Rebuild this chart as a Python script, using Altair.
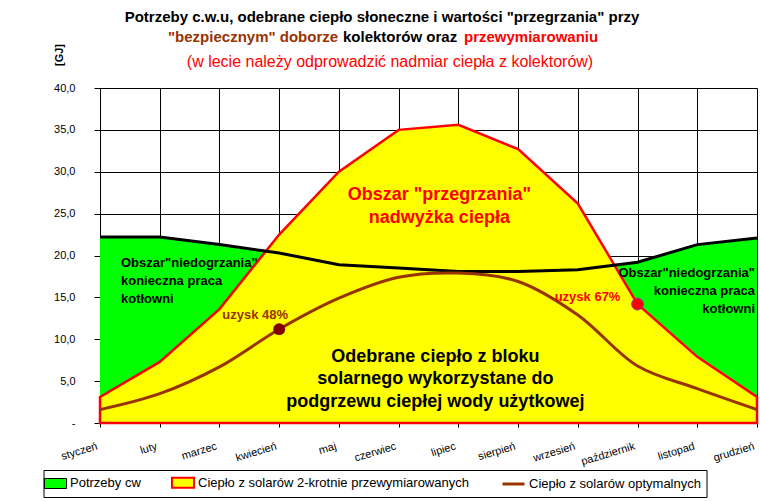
import altair as alt
import pandas as pd

# ---------------- data ----------------
months = ["styczeń", "luty", "marzec", "kwiecień", "maj", "czerwiec",
          "lipiec", "sierpień", "wrzesień", "październik", "listopad", "grudzień"]
potrzeby_cw = [22.2, 22.2, 21.3, 20.3, 18.9, 18.5, 18.1, 18.1, 18.3, 19.2, 21.3, 22.1]
solary_2x = [3.1, 7.3, 13.6, 22.5, 30.0, 35.0, 35.6, 32.7, 26.2, 14.2, 7.9, 3.1]
solary_opt = [1.6, 3.5, 6.7, 11.2, 14.9, 17.4, 17.9, 16.9, 12.9, 6.8, 4.1, 1.6]
y_ticks = [0, 5, 10, 15, 20, 25, 30, 35, 40]
legend_items = ["Potrzeby cw",
                "Ciepło z solarów 2-krotnie przewymiarowanych",
                "Ciepło z solarów optymalnych"]

df = pd.DataFrame({"month": months, "potrzeby": potrzeby_cw,
                   "solary2x": solary_2x, "solaryopt": solary_opt})
one = pd.DataFrame({"a": [0]})
leg_df = pd.DataFrame({"item": legend_items})

FONT = "Liberation Sans"
GREEN, YELLOW, RED, BROWN = "#00ff00", "#ffff00", "#ff0000", "#993300"

xenc = alt.X("month:N",
             scale=alt.Scale(type="point", padding=0, domain=months),
             axis=alt.Axis(title=None, labelAngle=-17, labelAlign="right",
                           labelBaseline="top", labelFontSize=11, labelPadding=13,
                           labelOffset=-5, labelOverlap=False, labelFont=FONT,
                           labelColor="black", tickSize=4, tickColor="black",
                           domainColor="black", grid=True, gridColor="black",
                           gridWidth=1, gridOpacity=1))

nb = "\u00a0"
yaxis = alt.Axis(title=None, values=y_ticks,
                 labelExpr="datum.value == 0 ? '-" + nb * 5 + "' : replace(format(datum.value, '.1f'), '.', ',')",
                 tickSize=6, labelPadding=19, labelFontSize=11, labelFont=FONT,
                 labelColor="black", grid=True, gridColor="black", gridWidth=1,
                 gridOpacity=1, domainColor="black", tickColor="black")
yscale = alt.Scale(domain=[0, 40], nice=False, zero=True)

green = alt.Chart(df).mark_area(color=GREEN, opacity=1).encode(
    x=xenc, y=alt.Y("potrzeby:Q", scale=yscale, axis=yaxis))
yellow = alt.Chart(df).mark_area(fill=YELLOW, stroke=RED, strokeWidth=2.5, opacity=1).encode(
    x=xenc, y=alt.Y("solary2x:Q"))
black = alt.Chart(df).mark_line(color="black", strokeWidth=3).encode(
    x=xenc, y=alt.Y("potrzeby:Q"))
brown = alt.Chart(df).mark_line(color=BROWN, strokeWidth=3, interpolate="catmull-rom").encode(
    x=xenc, y=alt.Y("solaryopt:Q"))

dot48 = alt.Chart(df).transform_filter(alt.datum.month == "kwiecień")
dot67 = alt.Chart(df).transform_filter(alt.datum.month == "październik")
dot1 = dot48.mark_circle(size=140, color="#800000", opacity=1).encode(x=xenc, y=alt.Y("solaryopt:Q"))
dot2 = dot67.mark_point(size=140, filled=True, fill=RED, stroke="#8040a0", strokeWidth=1, opacity=1).encode(
    x=xenc, y=alt.Y("solary2x:Q"))
lab1 = dot48.mark_text(text="uzysk 48%", font=FONT, fontSize=13, fontWeight="bold", color=BROWN,
                       dx=-24, dy=-14).encode(x=xenc, y=alt.Y("solaryopt:Q"))
lab2 = dot67.mark_text(text="uzysk 67%", font=FONT, fontSize=13, fontWeight="bold", color=RED,
                       dx=-50, dy=-7).encode(x=xenc, y=alt.Y("solary2x:Q"))

def note(lines, xm, yv, dx, align, size, color, lh):
    return alt.Chart(one).mark_text(text=lines, font=FONT, fontSize=size, fontWeight="bold",
                                    color=color, align=align, baseline="middle", dx=dx,
                                    lineHeight=lh).encode(x=alt.datum(xm), y=alt.datum(yv))

n_left = note(['Obszar"niedogrzania"', "konieczna praca", "kotłowni"], "styczeń", 19.1, 21, "left", 13, "black", 18)
n_right = note(['Obszar"niedogrzania"', "konieczna praca", "kotłowni"], "grudzień", 17.9, -2, "right", 13, "black", 18)
n_top = note(['Obszar "przegrzania"', "nadwyżka ciepła"], "lipiec", 27.2, -19, "center", 18, RED, 23)
n_bot = note(["Odebrane ciepło z bloku", "solarnego wykorzystane do",
              "podgrzewu ciepłej wody użytkowej"], "lipiec", 7.9, -23, "center", 18, "black", 22.5)

def tx(text, x, y, size, color, weight="bold", align="center", angle=0):
    return alt.Chart(one).mark_text(text=text, font=FONT, fontSize=size, fontWeight=weight,
                                    color=color, align=align, baseline="middle", angle=angle).encode(
        x=alt.value(x), y=alt.value(y))

t1 = tx('Potrzeby c.w.u, odebrane ciepło słoneczne i wartości "przegrzania" przy', 282, -71, 15, "black")
t2a = tx('"bezpiecznym" doborze', 68, -51, 15, BROWN, align="left")
t2b = tx('kolektorów oraz', 243, -51, 15, "black", align="left")
t2c = tx('przewymiarowaniu', 364, -51, 15, RED, align="left")
t3 = tx('(w lecie należy odprowadzić nadmiar ciepła z kolektorów)', 290, -26, 16, RED, weight="normal")
gj = tx('[GJ]', -40, -33, 11, "black", angle=270)

rect_path = "M-1.7,-0.77H1.7V0.77H-1.7Z"
line_path = "M-1.7,0H1.7"
leg = alt.Legend(title=None, orient="none", legendX=-56.5, legendY=382, direction="horizontal",
                 symbolSize=169, labelFontSize=13, labelFont=FONT, labelColor="black",
                 labelLimit=400, columnPadding=26, padding=5, strokeColor="black",
                 fillColor="white", labelOffset=7.5)
legend_layer = alt.Chart(leg_df).transform_filter("false").mark_point(filled=True, opacity=1).encode(
    fill=alt.Fill("item:N", scale=alt.Scale(domain=legend_items, range=[GREEN, YELLOW, BROWN]), legend=leg),
    stroke=alt.Stroke("item:N", scale=alt.Scale(domain=legend_items, range=["black", RED, BROWN]), legend=leg),
    strokeWidth=alt.StrokeWidth("item:N", scale=alt.Scale(domain=legend_items, range=[1, 3, 3]), legend=leg),
    shape=alt.Shape("item:N", scale=alt.Scale(domain=legend_items, range=[rect_path, rect_path, line_path]), legend=leg),
)

chart = alt.layer(green, yellow, black, brown, dot1, dot2, lab1, lab2,
                  n_left, n_right, n_top, n_bot, t1, t2a, t2b, t2c, t3, gj,
                  legend_layer).properties(
    width=657, height=335,
    autosize=alt.AutoSizeParams(type="none"),
    padding={"left": 100, "top": 88, "right": 3, "bottom": 78},
    background="white",
).configure_view(stroke=None)

chart.save("out.html", embed_options={"renderer": "svg", "actions": False})
